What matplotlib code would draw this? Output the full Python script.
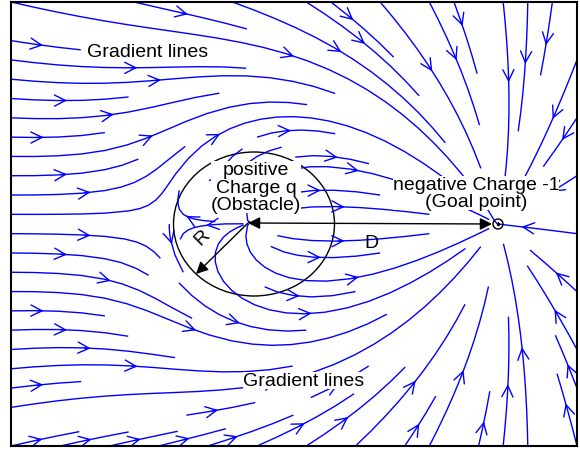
import numpy as np
from matplotlib import pyplot as plt
from matplotlib.patches import Ellipse, Circle

plt.rcParams['font.family'] = ['Liberation Sans', 'DejaVu Sans']

# plot window (screen-like units, y grows downward)
xmin, xmax = 11, 577
ymin, ymax = 3, 447

# positive charge (obstacle) and negative charge (goal)
obs_x, obs_y = 248, 224
goal_x, goal_y = 498, 225
q = 0.24          # obstacle strength
q_goal = -1.0     # goal strength

# obstacle boundary circle
circ_cx, circ_cy = 254, 225
circ_w, circ_h = 161, 144
# end of the radius arrow on the circle
r_end = (196, 275)

################################################################################
### Field from the two charges
################################################################################

x = np.linspace(xmin, xmax, 300)
y = np.linspace(ymin, ymax, 240)
X, Y = np.meshgrid(x, y)

def charge_field(cx, cy, s):
    dx, dy = X - cx, Y - cy
    r2 = dx**2 + dy**2 + 1e-6
    return s * dx / r2, s * dy / r2

u1, v1 = charge_field(obs_x, obs_y, q)
u2, v2 = charge_field(goal_x, goal_y, q_goal)
U = u1 + u2
V = v1 + v2

################################################################################
### Plotting
################################################################################

fig = plt.figure(figsize=(5.8, 4.52), dpi=100)
ax = fig.add_axes([xmin / 580, 1 - ymax / 452, (xmax - xmin) / 580, (ymax - ymin) / 452])

ax.streamplot(x, y, U, V, density=0.8, color='#0000ff', linewidth=1.0,
              arrowstyle='->', arrowsize=2.0)

ax.add_patch(Ellipse((circ_cx, circ_cy), circ_w, circ_h, fill=False, color='k', lw=1.0))
ax.add_patch(Circle((goal_x, goal_y), 5, fill=False, color='k', lw=1.0, zorder=5))
ax.plot(goal_x, goal_y, 'k.', ms=3, zorder=5)

# D: distance between the charges
ax.annotate('', xy=(obs_x, obs_y), xytext=(goal_x - 6, goal_y),
            arrowprops=dict(arrowstyle='<|-|>', color='k', lw=1.0,
                            mutation_scale=18, shrinkA=0, shrinkB=0))
# R: radius of the obstacle
ax.annotate('', xy=r_end, xytext=(obs_x, obs_y),
            arrowprops=dict(arrowstyle='-|>', color='k', lw=1.0,
                            mutation_scale=18, shrinkA=0, shrinkB=0))

fs = 14
box = dict(fc='white', ec='none', pad=0)
ax.text(371, 243, 'D', fontsize=fs, ha='center', va='center')
ax.text(202, 238, 'R', fontsize=fs, ha='center', va='center', rotation=45)
ax.text(256, 188, 'positive\nCharge q\n(Obstacle)', fontsize=fs, ha='center',
        va='center', linespacing=1.05, bbox=box, zorder=4)
ax.text(476, 194, 'negative Charge -1\n(Goal point)', fontsize=fs, ha='center',
        va='center', linespacing=1.05, bbox=box, zorder=4)
ax.text(148, 52, 'Gradient lines', fontsize=fs, ha='center', va='center',
        bbox=box, zorder=4)
ax.text(304, 381, 'Gradient lines', fontsize=fs, ha='center', va='center',
        bbox=box, zorder=4)

ax.set_xlim(xmin, xmax)
ax.set_ylim(ymax, ymin)
ax.set_xticks([])
ax.set_yticks([])
for s in ax.spines.values():
    s.set_linewidth(1.5)

fig.savefig('out.png', dpi=100)
